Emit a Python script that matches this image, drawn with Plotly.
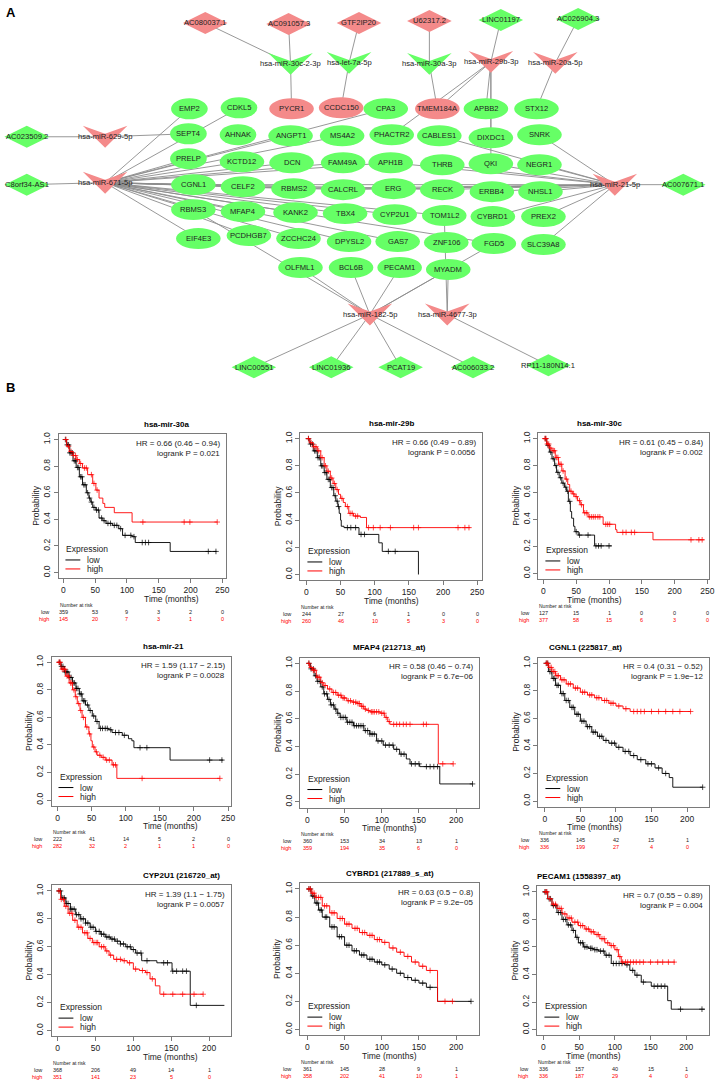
import plotly.graph_objects as go

W, H = 720, 1080
FONT = "Liberation Sans, Arial, sans-serif"
GREEN = "#66FF66"
PINK = "#F48A8A"
EDGE = "#8C8C8C"

# ======================= Panel A : network data =======================
# node kinds: ge green ellipse, pe pink ellipse, gd green diamond,
#             pd pink diamond, gv green V, pv pink V
node_names = [
    "AC080037.1", "AC091057.3", "GTF2IP20", "U62317.2", "LINC01197", "AC026904.3",
    "hsa-miR-30c-2-3p", "hsa-let-7a-5p", "hsa-miR-30a-3p", "hsa-miR-29b-3p", "hsa-miR-20a-5p",
    "EMP2", "CDKL5", "PYCR1", "CCDC150", "CPA3", "TMEM184A", "APBB2", "STX12",
    "SEPT4", "AHNAK", "ANGPT1", "MS4A2", "PHACTR2", "CABLES1", "DIXDC1", "SNRK",
    "PRELP", "KCTD12", "DCN", "FAM49A", "APH1B", "THRB", "QKI", "NEGR1",
    "CGNL1", "CELF2", "RBMS2", "CALCRL", "ERG", "RECK", "ERBB4", "NHSL1",
    "RBMS3", "MFAP4", "KANK2", "TBX4", "CYP2U1", "TOM1L2", "CYBRD1", "PREX2",
    "EIF4E3", "PCDHGB7", "ZCCHC24", "DPYSL2", "GAS7", "ZNF106", "FGD5", "SLC39A8",
    "OLFML1", "BCL6B", "PECAM1", "MYADM",
    "AC023509.2", "hsa-miR-629-5p", "C8orf34-AS1", "hsa-miR-671-5p",
    "hsa-miR-21-5p", "AC007671.1",
    "hsa-miR-182-5p", "hsa-miR-4677-3p",
    "LINC00551", "LINC01936", "PCAT19", "AC006033.2", "RP11-180N14.1",
]
node_kinds = [
    "pd", "pd", "pd", "pd", "gd", "gd",
    "gv", "gv", "gv", "pv", "pv",
    "ge", "ge", "pe", "pe", "ge", "pe", "ge", "ge",
    "ge", "ge", "ge", "ge", "ge", "ge", "ge", "ge",
    "ge", "ge", "ge", "ge", "ge", "ge", "ge", "ge",
    "ge", "ge", "ge", "ge", "ge", "ge", "ge", "ge",
    "ge", "ge", "ge", "ge", "ge", "ge", "ge", "ge",
    "ge", "ge", "ge", "ge", "ge", "ge", "ge", "ge",
    "ge", "ge", "ge", "ge",
    "gd", "pv", "gd", "pv",
    "pv", "gd",
    "pv", "pv",
    "gd", "gd", "gd", "gd", "gd",
]
edges = [
    ("hsa-miR-30c-2-3p", "AC080037.1"), ("hsa-miR-30c-2-3p", "AC091057.3"), ("hsa-miR-30c-2-3p", "PYCR1"),
    ("hsa-let-7a-5p", "GTF2IP20"), ("hsa-let-7a-5p", "CCDC150"),
    ("hsa-miR-30a-3p", "U62317.2"), ("hsa-miR-30a-3p", "TMEM184A"),
    ("hsa-miR-29b-3p", "LINC01197"), ("hsa-miR-29b-3p", "TMEM184A"), ("hsa-miR-29b-3p", "PHACTR2"),
    ("hsa-miR-29b-3p", "APBB2"), ("hsa-miR-29b-3p", "DIXDC1"), ("hsa-miR-29b-3p", "QKI"),
    ("hsa-miR-20a-5p", "AC026904.3"), ("hsa-miR-20a-5p", "STX12"),
    ("hsa-miR-629-5p", "AC023509.2"), ("hsa-miR-629-5p", "SEPT4"),
    ("hsa-miR-671-5p", "C8orf34-AS1"), ("hsa-miR-671-5p", "EMP2"), ("hsa-miR-671-5p", "CDKL5"),
    ("hsa-miR-671-5p", "ANGPT1"), ("hsa-miR-671-5p", "CPA3"), ("hsa-miR-671-5p", "MS4A2"),
    ("hsa-miR-671-5p", "PRELP"), ("hsa-miR-671-5p", "KCTD12"), ("hsa-miR-671-5p", "DCN"),
    ("hsa-miR-671-5p", "FAM49A"), ("hsa-miR-671-5p", "APH1B"), ("hsa-miR-671-5p", "CGNL1"),
    ("hsa-miR-671-5p", "CELF2"), ("hsa-miR-671-5p", "RBMS2"), ("hsa-miR-671-5p", "CALCRL"),
    ("hsa-miR-671-5p", "ERG"), ("hsa-miR-671-5p", "RECK"), ("hsa-miR-671-5p", "RBMS3"),
    ("hsa-miR-671-5p", "MFAP4"), ("hsa-miR-671-5p", "KANK2"), ("hsa-miR-671-5p", "TBX4"),
    ("hsa-miR-671-5p", "CYP2U1"), ("hsa-miR-671-5p", "EIF4E3"), ("hsa-miR-671-5p", "PCDHGB7"),
    ("hsa-miR-671-5p", "ZCCHC24"), ("hsa-miR-671-5p", "DPYSL2"), ("hsa-miR-671-5p", "FGD5"),
    ("hsa-miR-671-5p", "TOM1L2"), ("hsa-miR-671-5p", "GAS7"),
    ("hsa-miR-21-5p", "AC007671.1"), ("hsa-miR-21-5p", "SNRK"), ("hsa-miR-21-5p", "NEGR1"),
    ("hsa-miR-21-5p", "CABLES1"), ("hsa-miR-21-5p", "THRB"), ("hsa-miR-21-5p", "QKI"),
    ("hsa-miR-21-5p", "APH1B"), ("hsa-miR-21-5p", "ERG"), ("hsa-miR-21-5p", "RECK"),
    ("hsa-miR-21-5p", "ERBB4"), ("hsa-miR-21-5p", "NHSL1"), ("hsa-miR-21-5p", "CALCRL"),
    ("hsa-miR-21-5p", "RBMS2"), ("hsa-miR-21-5p", "CYBRD1"), ("hsa-miR-21-5p", "PREX2"),
    ("hsa-miR-21-5p", "SLC39A8"), ("hsa-miR-21-5p", "CGNL1"),
    ("hsa-miR-182-5p", "LINC00551"), ("hsa-miR-182-5p", "LINC01936"), ("hsa-miR-182-5p", "PCAT19"),
    ("hsa-miR-182-5p", "AC006033.2"), ("hsa-miR-182-5p", "OLFML1"), ("hsa-miR-182-5p", "BCL6B"),
    ("hsa-miR-182-5p", "PECAM1"), ("hsa-miR-182-5p", "MYADM"), ("hsa-miR-182-5p", "FGD5"),
    ("hsa-miR-182-5p", "RBMS3"),
    ("hsa-miR-4677-3p", "MYADM"), ("hsa-miR-4677-3p", "TOM1L2"), ("hsa-miR-4677-3p", "RP11-180N14.1"),
]

# ---- layout positions of the network nodes (pixel coordinates) ----
NODE_POS = {
    "AC080037.1": (207, 21), "AC091057.3": (291, 22), "GTF2IP20": (362, 21), "U62317.2": (433, 19),
    "LINC01197": (505, 18), "AC026904.3": (583, 17),
    "hsa-miR-30c-2-3p": (293, 62), "hsa-let-7a-5p": (352, 61), "hsa-miR-30a-3p": (433, 62),
    "hsa-miR-29b-3p": (495, 60), "hsa-miR-20a-5p": (560, 61),
    "EMP2": (191, 107), "CDKL5": (241, 106), "PYCR1": (294, 107), "CCDC150": (344, 106),
    "CPA3": (389, 107), "TMEM184A": (441, 107), "APBB2": (490, 107), "STX12": (541, 107),
    "SEPT4": (190, 132), "AHNAK": (240, 133), "ANGPT1": (293, 134), "MS4A2": (345, 134),
    "PHACTR2": (395, 133), "CABLES1": (443, 134), "DIXDC1": (495, 136), "SNRK": (544, 133),
    "PRELP": (190, 157), "KCTD12": (244, 160), "DCN": (294, 161), "FAM49A": (346, 161),
    "APH1B": (394, 161), "THRB": (446, 163), "QKI": (495, 162), "NEGR1": (544, 163),
    "CGNL1": (195, 183), "CELF2": (245, 185), "RBMS2": (296, 187), "CALCRL": (346, 188),
    "ERG": (397, 187), "RECK": (446, 188), "ERBB4": (496, 190), "NHSL1": (545, 190),
    "RBMS3": (195, 208), "MFAP4": (245, 210), "KANK2": (298, 211), "TBX4": (348, 212),
    "CYP2U1": (398, 213), "TOM1L2": (448, 214), "CYBRD1": (497, 215), "PREX2": (548, 215),
    "EIF4E3": (200, 237), "PCDHGB7": (251, 234), "ZCCHC24": (301, 237), "DPYSL2": (352, 240),
    "GAS7": (401, 240), "ZNF106": (450, 241), "FGD5": (498, 242), "SLC39A8": (548, 243),
    "OLFML1": (303, 266), "BCL6B": (354, 266), "PECAM1": (403, 266), "MYADM": (452, 268),
    "AC023509.2": (27, 135), "hsa-miR-629-5p": (106, 135),
    "C8orf34-AS1": (27, 183), "hsa-miR-671-5p": (106, 181),
    "hsa-miR-21-5p": (620, 183), "AC007671.1": (689, 183),
    "hsa-miR-182-5p": (373, 313), "hsa-miR-4677-3p": (451, 313),
    "LINC00551": (256, 366), "LINC01936": (334, 366), "PCAT19": (404, 366),
    "AC006033.2": (477, 366), "RP11-180N14.1": (553, 364),
}
NARROW = {"EMP2", "CDKL5", "SEPT4", "AHNAK", "PRELP"}

# ======================= Panel B : survival data =======================
km_titles = ["hsa-mir-30a", "hsa-mir-29b", "hsa-mir-30c", "hsa-mir-21", "MFAP4 (212713_at)",
             "CGNL1 (225817_at)", "CYP2U1 (216720_at)", "CYBRD1 (217889_s_at)", "PECAM1 (1558397_at)"]
km_hr = ["HR = 0.66 (0.46 − 0.94)", "HR = 0.66 (0.49 − 0.89)", "HR = 0.61 (0.45 − 0.84)",
         "HR = 1.59 (1.17 − 2.15)", "HR = 0.58 (0.46 − 0.74)", "HR = 0.4 (0.31 − 0.52)",
         "HR = 1.39 (1.1 − 1.75)", "HR = 0.63 (0.5 − 0.8)", "HR = 0.7 (0.55 − 0.89)"]
km_p = ["logrank P = 0.021", "logrank P = 0.0056", "logrank P = 0.002", "logrank P = 0.0028",
        "logrank P = 6.7e−06", "logrank P = 1.9e−12", "logrank P = 0.0057", "logrank P = 9.2e−05",
        "logrank P = 0.004"]
km_xticks = [[0, 50, 100, 150, 200, 250]] * 4 + [[0, 50, 100, 150, 200]] * 5

risk_low = [[359, 53, 9, 3, 2, 0], [244, 27, 6, 1, 0, 0], [127, 15, 1, 0, 0, 0], [222, 41, 14, 5, 2, 0],
            [360, 153, 34, 13, 1], [336, 145, 42, 15, 1], [368, 206, 49, 14, 1], [361, 145, 28, 9, 1],
            [336, 157, 40, 15, 1]]
risk_high = [[145, 20, 7, 3, 1, 0], [260, 46, 10, 5, 3, 0], [377, 58, 15, 6, 3, 0], [282, 32, 2, 1, 1, 0],
             [359, 194, 35, 6, 0], [336, 199, 27, 4, 0], [351, 141, 23, 5, 0], [358, 202, 41, 10, 1],
             [336, 187, 29, 4, 0]]

# --- hsa-mir-30a
p1_low_t = [0, 5, 10, 15, 20, 25, 30, 36, 40, 43, 46, 51, 56, 62, 67, 77, 87, 93, 108, 113, 168, 241]
p1_low_s = [1.0, 0.96, 0.90, 0.84, 0.79, 0.72, 0.66, 0.60, 0.56, 0.53, 0.49, 0.47, 0.41, 0.39, 0.37, 0.355, 0.33, 0.28, 0.27, 0.226, 0.159, 0.159]
p1_low_c = [3, 6, 8, 10, 12, 14, 17, 19, 22, 24, 27, 29, 32, 34, 38, 41, 44, 48, 52, 55, 60, 64, 70, 74, 80, 84, 90, 97, 106, 111, 124, 129, 134, 228, 240]
p1_high_t = [0, 5, 9, 15, 20, 25, 30, 38, 46, 51, 56, 62, 65, 80, 108, 242]
p1_high_s = [1.0, 0.95, 0.91, 0.88, 0.85, 0.82, 0.786, 0.736, 0.67, 0.62, 0.56, 0.52, 0.49, 0.45, 0.38, 0.38]
p1_high_c = [4, 8, 12, 16, 19, 22, 27, 33, 36, 44, 48, 53, 125, 190, 199, 242]
# --- hsa-mir-29b
p2_low_t = [0, 5, 10, 16, 21, 26, 30, 35, 40, 43, 46, 48, 50, 51, 55, 77, 106, 111, 164]
p2_low_s = [1.0, 0.96, 0.91, 0.86, 0.80, 0.75, 0.70, 0.64, 0.58, 0.54, 0.50, 0.45, 0.40, 0.355, 0.345, 0.295, 0.233, 0.17, 0.0]
p2_low_c = [3, 6, 9, 12, 14, 17, 19, 22, 24, 27, 29, 32, 34, 37, 39, 42, 45, 47, 60, 65, 72, 80, 85, 120, 130]
p2_high_t = [0, 5, 10, 16, 21, 26, 30, 35, 39, 43, 47, 50, 54, 57, 62, 69, 79, 88, 240]
p2_high_s = [1.0, 0.97, 0.94, 0.91, 0.86, 0.80, 0.76, 0.71, 0.67, 0.625, 0.59, 0.56, 0.53, 0.50, 0.45, 0.43, 0.42, 0.345, 0.345]
p2_high_c = [3, 7, 11, 14, 18, 23, 28, 32, 37, 41, 45, 52, 60, 64, 67, 72, 75, 91, 98, 108, 123, 157, 164, 222, 232, 238]
# --- hsa-mir-30c
p3_low_t = [0, 5, 9, 13, 17, 20, 24, 28, 32, 35, 38, 41, 43, 46, 48, 53, 78, 104]
p3_low_s = [1.0, 0.95, 0.90, 0.85, 0.80, 0.75, 0.71, 0.67, 0.64, 0.61, 0.535, 0.46, 0.41, 0.35, 0.31, 0.285, 0.205, 0.205]
p3_low_c = [3, 7, 11, 15, 19, 22, 26, 30, 34, 37, 40, 50, 55, 68, 80, 84, 88, 100]
p3_high_t = [0, 5, 9, 13, 18, 23, 28, 33, 37, 40, 44, 48, 52, 56, 61, 68, 91, 110, 112, 167, 245]
p3_high_s = [1.0, 0.96, 0.93, 0.91, 0.86, 0.81, 0.76, 0.70, 0.66, 0.61, 0.59, 0.57, 0.54, 0.51, 0.45, 0.42, 0.365, 0.325, 0.305, 0.25, 0.25]
p3_high_c = [2, 4, 6, 8, 11, 15, 17, 20, 22, 25, 27, 30, 35, 42, 46, 50, 55, 58, 63, 66, 70, 73, 76, 79, 83, 86, 95, 98, 101, 121, 126, 134, 139, 225, 237, 242]
# --- hsa-mir-21
p4_low_t = [0, 5, 10, 17, 22, 27, 32, 36, 41, 46, 51, 56, 61, 75, 80, 95, 104, 109, 112, 165, 243]
p4_low_s = [1.0, 0.97, 0.93, 0.89, 0.85, 0.81, 0.77, 0.72, 0.69, 0.65, 0.61, 0.57, 0.52, 0.51, 0.49, 0.47, 0.445, 0.43, 0.38, 0.29, 0.29]
p4_low_c = [3, 6, 8, 11, 13, 15, 18, 20, 23, 25, 28, 30, 33, 35, 38, 40, 44, 48, 53, 58, 63, 66, 70, 73, 78, 85, 90, 98, 121, 131, 223, 241]
p4_high_t = [0, 5, 12, 17, 22, 26, 29, 33, 36, 41, 46, 49, 51, 55, 58, 64, 70, 80, 87, 238]
p4_high_s = [1.0, 0.95, 0.90, 0.85, 0.80, 0.75, 0.70, 0.65, 0.60, 0.53, 0.48, 0.43, 0.385, 0.35, 0.325, 0.31, 0.29, 0.255, 0.157, 0.157]
p4_high_c = [2, 4, 7, 9, 11, 14, 16, 19, 21, 24, 27, 31, 34, 38, 43, 47, 53, 57, 62, 67, 72, 76, 82, 85, 124, 238]
# --- MFAP4
p5_low_t = [0, 4, 9, 13, 18, 22, 27, 31, 36, 40, 44, 53, 62, 76, 84, 93, 102, 116, 124, 133, 138, 151, 178, 222]
p5_low_s = [1.0, 0.96, 0.91, 0.87, 0.83, 0.78, 0.74, 0.70, 0.67, 0.64, 0.61, 0.575, 0.55, 0.515, 0.49, 0.44, 0.41, 0.38, 0.345, 0.31, 0.275, 0.255, 0.13, 0.13]
p5_low_c = [2, 5, 8, 11, 14, 17, 20, 23, 26, 29, 32, 35, 38, 41, 45, 48, 51, 54, 57, 60, 63, 66, 69, 72, 75, 78, 81, 84, 87, 90, 95, 100, 105, 110, 115, 120, 126, 130, 140, 145, 150, 160, 165, 170, 175, 222]
p5_high_t = [0, 3, 7, 12, 18, 22, 27, 33, 40, 46, 53, 60, 67, 72, 76, 80, 84, 98, 104, 108, 111, 176, 196]
p5_high_s = [1.0, 0.97, 0.95, 0.90, 0.86, 0.84, 0.815, 0.79, 0.77, 0.75, 0.73, 0.72, 0.71, 0.69, 0.67, 0.66, 0.65, 0.64, 0.61, 0.58, 0.56, 0.275, 0.275]
p5_high_c = [2, 5, 8, 10, 14, 16, 20, 24, 30, 35, 38, 42, 45, 48, 50, 55, 58, 62, 65, 68, 70, 73, 75, 78, 82, 86, 88, 90, 93, 96, 100, 103, 106, 110, 116, 120, 124, 129, 133, 138, 156, 160, 182, 196]
# --- CGNL1
p6_low_t = [0, 5, 10, 15, 22, 28, 35, 42, 50, 58, 66, 74, 82, 90, 100, 110, 120, 130, 142, 155, 165, 175, 180, 222]
p6_low_s = [1.0, 0.94, 0.89, 0.84, 0.78, 0.73, 0.68, 0.63, 0.58, 0.54, 0.50, 0.47, 0.44, 0.42, 0.39, 0.36, 0.33, 0.30, 0.27, 0.24, 0.20, 0.17, 0.10, 0.10]
p6_low_c = [2, 4, 7, 9, 12, 14, 17, 19, 24, 26, 30, 33, 38, 40, 45, 47, 52, 55, 60, 63, 68, 71, 77, 80, 86, 94, 98, 104, 113, 118, 125, 135, 145, 150, 160, 170, 222]
p6_high_t = [0, 5, 10, 15, 22, 30, 40, 50, 60, 70, 80, 90, 100, 110, 120, 205]
p6_high_s = [1.0, 0.97, 0.94, 0.91, 0.88, 0.85, 0.82, 0.79, 0.77, 0.75, 0.73, 0.71, 0.69, 0.67, 0.65, 0.65]
p6_high_c = [2, 4, 7, 9, 12, 14, 17, 19, 24, 27, 33, 36, 43, 46, 53, 56, 63, 66, 73, 76, 84, 87, 93, 96, 104, 114, 125, 130, 135, 140, 150, 160, 170, 180, 190, 205]
# --- CYP2U1
p7_low_t = [0, 5, 11, 17, 24, 30, 37, 43, 50, 57, 63, 70, 76, 83, 90, 97, 103, 111, 131, 151, 175, 220]
p7_low_s = [1.0, 0.95, 0.91, 0.87, 0.83, 0.80, 0.77, 0.74, 0.71, 0.69, 0.67, 0.655, 0.64, 0.62, 0.60, 0.58, 0.555, 0.50, 0.485, 0.425, 0.18, 0.18]
p7_low_c = [2, 4, 7, 9, 12, 14, 17, 19, 22, 25, 28, 31, 34, 37, 40, 44, 47, 51, 55, 58, 61, 65, 68, 72, 75, 79, 83, 87, 92, 96, 100, 105, 110, 118, 140, 145, 152, 157, 165, 170, 183]
p7_high_t = [0, 4, 9, 14, 20, 26, 33, 40, 46, 55, 63, 68, 74, 85, 92, 100, 108, 116, 122, 129, 135, 192]
p7_high_s = [1.0, 0.94, 0.89, 0.84, 0.79, 0.74, 0.70, 0.66, 0.63, 0.60, 0.57, 0.54, 0.51, 0.50, 0.485, 0.44, 0.43, 0.415, 0.37, 0.32, 0.26, 0.26]
p7_high_c = [2, 5, 8, 11, 16, 19, 23, 28, 31, 36, 39, 43, 48, 51, 53, 58, 61, 65, 70, 78, 83, 88, 95, 103, 112, 118, 125, 140, 152, 165, 180, 192]
# --- CYBRD1
p8_low_t = [0, 5, 10, 15, 20, 30, 40, 50, 60, 70, 80, 90, 100, 110, 120, 130, 140, 150, 160, 175, 220]
p8_low_s = [1.0, 0.95, 0.90, 0.85, 0.80, 0.73, 0.66, 0.60, 0.56, 0.53, 0.50, 0.48, 0.46, 0.43, 0.40, 0.37, 0.35, 0.33, 0.30, 0.20, 0.20]
p8_low_c = [2, 4, 7, 9, 12, 14, 17, 19, 24, 26, 33, 36, 43, 46, 53, 56, 63, 66, 73, 76, 84, 87, 94, 97, 104, 114, 125, 135, 145, 155, 165, 220]
p8_high_t = [0, 5, 10, 20, 30, 40, 50, 60, 70, 80, 90, 100, 110, 120, 130, 140, 150, 160, 175, 195]
p8_high_s = [1.0, 0.97, 0.94, 0.88, 0.83, 0.79, 0.75, 0.72, 0.69, 0.67, 0.64, 0.62, 0.58, 0.55, 0.52, 0.48, 0.45, 0.42, 0.20, 0.20]
p8_high_c = [2, 4, 7, 9, 12, 15, 18, 23, 26, 33, 36, 44, 47, 53, 56, 64, 67, 74, 77, 84, 87, 94, 97, 104, 115, 125, 135, 145, 155, 165, 185, 195]
# --- PECAM1
p9_low_t = [0, 6, 12, 19, 26, 33, 40, 45, 49, 56, 63, 70, 77, 86, 95, 114, 121, 128, 137, 151, 174, 179, 226]
p9_low_s = [1.0, 0.95, 0.90, 0.85, 0.80, 0.76, 0.72, 0.67, 0.63, 0.60, 0.59, 0.58, 0.57, 0.54, 0.48, 0.47, 0.43, 0.395, 0.345, 0.315, 0.21, 0.148, 0.148]
p9_low_c = [2, 4, 8, 10, 14, 17, 21, 24, 28, 31, 35, 38, 42, 47, 52, 55, 58, 61, 66, 68, 72, 75, 80, 84, 88, 92, 98, 102, 106, 110, 117, 125, 131, 140, 155, 160, 165, 170, 192, 222]
p9_high_t = [0, 6, 12, 19, 26, 33, 40, 49, 58, 65, 72, 79, 86, 93, 100, 105, 109, 184]
p9_high_s = [1.0, 0.95, 0.91, 0.88, 0.84, 0.81, 0.78, 0.755, 0.73, 0.71, 0.69, 0.66, 0.63, 0.61, 0.58, 0.53, 0.49, 0.49]
p9_high_c = [3, 5, 9, 14, 17, 22, 25, 30, 36, 39, 44, 48, 52, 55, 60, 63, 67, 70, 75, 77, 82, 85, 90, 95, 98, 103, 107, 111, 115, 118, 122, 126, 130, 135, 140, 150, 160, 167, 175, 183]

low_curves = [(p1_low_t, p1_low_s, p1_low_c), (p2_low_t, p2_low_s, p2_low_c), (p3_low_t, p3_low_s, p3_low_c),
              (p4_low_t, p4_low_s, p4_low_c), (p5_low_t, p5_low_s, p5_low_c), (p6_low_t, p6_low_s, p6_low_c),
              (p7_low_t, p7_low_s, p7_low_c), (p8_low_t, p8_low_s, p8_low_c), (p9_low_t, p9_low_s, p9_low_c)]
high_curves = [(p1_high_t, p1_high_s, p1_high_c), (p2_high_t, p2_high_s, p2_high_c), (p3_high_t, p3_high_s, p3_high_c),
               (p4_high_t, p4_high_s, p4_high_c), (p5_high_t, p5_high_s, p5_high_c), (p6_high_t, p6_high_s, p6_high_c),
               (p7_high_t, p7_high_s, p7_high_c), (p8_high_t, p8_high_s, p8_high_c), (p9_high_t, p9_high_s, p9_high_c)]

# ---- layout: panel boxes in pixels (x0, x1, y0, y1) and x ranges ----
BOXES = [(59, 228, 433, 577), (303, 486, 432, 579), (543, 715, 432, 578),
         (52, 233, 656, 805), (303, 483, 657, 807), (543, 715, 657, 806),
         (52, 233, 885, 1036), (303, 483, 883, 1035), (542, 715, 886, 1035)]
XRANGES = [(-7.8, 256), (-8.7, 257), (-7.6, 252.5),
           (-8.7, 254.4), (-9.3, 230.7), (-9, 231),
           (-7.8, 228.8), (-9.3, 230.7), (-8.3, 231.9)]


def step_value(ts, ss, c):
    v = ss[0]
    for t, s in zip(ts, ss):
        if t <= c:
            v = s
    return v


fig = go.Figure()
shapes = []
annotations = []

# ======================= build panel A =======================
ex, ey = [], []
for a, b in edges:
    xa, ya = NODE_POS[a]
    xb, yb = NODE_POS[b]
    ex += [xa, xb, None]
    ey += [ya, yb, None]
fig.add_trace(go.Scatter(x=ex, y=ey, mode="lines", line=dict(color=EDGE, width=0.9),
                         hoverinfo="skip", showlegend=False, xaxis="x", yaxis="y"))

for name, kind in zip(node_names, node_kinds):
    x, y = NODE_POS[name]
    col = GREEN if kind[0] == "g" else PINK
    if kind[1] == "e":
        w = 37 if name in NARROW else 45
        h = 21
        shapes.append(dict(type="circle", xref="x", yref="y", x0=x - w / 2, x1=x + w / 2,
                           y0=y - h / 2, y1=y + h / 2, fillcolor=col, line=dict(width=0), layer="above"))
    elif kind[1] == "d":
        w, h = 45, 22
        path = f"M {x - w/2},{y} L {x},{y - h/2} L {x + w/2},{y} L {x},{y + h/2} Z"
        shapes.append(dict(type="path", xref="x", yref="y", path=path, fillcolor=col,
                           line=dict(width=0), layer="above"))
    else:
        w, h, notch = 45, 22, 8
        path = (f"M {x - w/2},{y - h/2} L {x},{y - h/2 + notch} L {x + w/2},{y - h/2} "
                f"L {x},{y + h/2} Z")
        shapes.append(dict(type="path", xref="x", yref="y", path=path, fillcolor=col,
                           line=dict(width=0), layer="above"))
    annotations.append(dict(x=x, y=y, xref="x", yref="y", text=name, showarrow=False,
                            font=dict(family=FONT, size=7.6, color="#222"),
                            xanchor="center", yanchor="middle"))

A_BOTTOM = 388
layout_axes = dict(
    xaxis=dict(domain=[0, 1], range=[0, W], visible=False, fixedrange=True),
    yaxis=dict(domain=[1 - A_BOTTOM / H, 1], range=[A_BOTTOM, 0], visible=False, fixedrange=True),
)

annotations.append(dict(x=4 / W, y=1 - 1 / H, xref="paper", yref="paper", text="<b>A</b>",
                        showarrow=False, xanchor="left", yanchor="top",
                        font=dict(family=FONT, size=13, color="black")))
annotations.append(dict(x=4 / W, y=1 - 377 / H, xref="paper", yref="paper", text="<b>B</b>",
                        showarrow=False, xanchor="left", yanchor="top",
                        font=dict(family=FONT, size=13, color="black")))


def px(xp):
    return xp / W


def py(yp):
    return 1 - yp / H


# ======================= build panel B =======================
for i in range(9):
    k = i + 2
    xa, ya = f"x{k}", f"y{k}"
    bx0, bx1, by0, by1 = BOXES[i]
    ticks = km_xticks[i]
    for (t, s, c), color in ((low_curves[i], "black"), (high_curves[i], "#FF0000")):
        fig.add_trace(go.Scatter(x=t, y=s, mode="lines", line=dict(shape="hv", color=color, width=0.9),
                                 hoverinfo="skip", showlegend=False, xaxis=xa, yaxis=ya))
        cy = [step_value(t, s, cc) for cc in c]
        fig.add_trace(go.Scatter(x=c, y=cy, mode="markers",
                                 marker=dict(symbol="cross-thin", size=4, line=dict(width=0.7, color=color)),
                                 hoverinfo="skip", showlegend=False, xaxis=xa, yaxis=ya))
    axstyle = dict(showline=True, mirror=True, linecolor="#7a7a7a", linewidth=1, ticks="outside",
                   ticklen=4, tickcolor="#7a7a7a", showgrid=False, zeroline=False, fixedrange=True,
                   tickfont=dict(family=FONT, size=8.5, color="#222"))
    layout_axes[f"xaxis{k}"] = dict(domain=[px(bx0), px(bx1)], range=list(XRANGES[i]), anchor=ya,
                                    tickvals=ticks, **axstyle)
    layout_axes[f"yaxis{k}"] = dict(domain=[py(by1), py(by0)], range=[-0.04, 1.04], anchor=xa,
                                    tickvals=[0, 0.2, 0.4, 0.6, 0.8, 1.0],
                                    ticktext=["0.0", "0.2", "0.4", "0.6", "0.8", "1.0"],
                                    tickangle=-90, **axstyle)
    cx = (bx0 + bx1) / 2
    # title
    annotations.append(dict(x=px(cx), y=py(by0 - 10), xref="paper", yref="paper",
                            text=f"<b>{km_titles[i]}</b>", showarrow=False,
                            font=dict(family=FONT, size=8, color="black"), yanchor="middle"))
    # HR text
    annotations.append(dict(x=px(bx1 - 4), y=py(by0 + 9), xref="paper", yref="paper", text=km_hr[i],
                            showarrow=False, xanchor="right", yanchor="middle",
                            font=dict(family=FONT, size=8, color="#222")))
    annotations.append(dict(x=px(bx1 - 4), y=py(by0 + 19), xref="paper", yref="paper", text=km_p[i],
                            showarrow=False, xanchor="right", yanchor="middle",
                            font=dict(family=FONT, size=8, color="#222")))
    # axis titles
    annotations.append(dict(x=px(cx), y=py(by1 + 21), xref="paper", yref="paper", text="Time (months)",
                            showarrow=False, yanchor="middle",
                            font=dict(family=FONT, size=8.5, color="#222")))
    annotations.append(dict(x=px(bx0 - 23), y=py((by0 + by1) / 2), xref="paper", yref="paper",
                            text="Probability", showarrow=False, textangle=-90, xanchor="center",
                            yanchor="middle", font=dict(family=FONT, size=8.5, color="#222")))
    # legend
    annotations.append(dict(x=px(bx0 + 6), y=py(by1 - 29), xref="paper", yref="paper", text="Expression",
                            showarrow=False, xanchor="left", yanchor="middle",
                            font=dict(family=FONT, size=8.5, color="#222")))
    for lbl, dy, color in (("low", 18, "black"), ("high", 9, "#FF0000")):
        shapes.append(dict(type="line", xref="paper", yref="paper", x0=px(bx0 + 7), x1=px(bx0 + 22),
                           y0=py(by1 - dy), y1=py(by1 - dy), line=dict(color=color, width=1)))
        annotations.append(dict(x=px(bx0 + 27), y=py(by1 - dy), xref="paper", yref="paper", text=lbl,
                                showarrow=False, xanchor="left", yanchor="middle",
                                font=dict(family=FONT, size=8.5, color="#222")))
    # number at risk table
    annotations.append(dict(x=px(bx0 - 1), y=py(by1 + 27), xref="paper", yref="paper",
                            text="Number at risk", showarrow=False, xanchor="left", yanchor="middle",
                            font=dict(family=FONT, size=5, color="#222")))
    for lbl, vals, dy, color in (("low", risk_low[i], 34, "#222"), ("high", risk_high[i], 41, "#FF0000")):
        annotations.append(dict(x=px(bx0 - 8), y=py(by1 + dy), xref="paper", yref="paper", text=lbl,
                                showarrow=False, xanchor="right", yanchor="middle",
                                font=dict(family=FONT, size=5.5, color=color)))
        for tv, v in zip(ticks, vals):
            annotations.append(dict(x=tv, y=py(by1 + dy), xref=xa, yref="paper", text=str(v),
                                    showarrow=False, xanchor="center", yanchor="middle",
                                    font=dict(family=FONT, size=5.5, color=color)))

fig.update_layout(
    width=W, height=H, margin=dict(l=0, r=0, t=0, b=0),
    paper_bgcolor="white", plot_bgcolor="white",
    shapes=shapes, annotations=annotations, showlegend=False,
    **layout_axes,
)

fig.write_html("out.html",
               config={"displayModeBar": False, "staticPlot": True},
               post_script="document.body.style.margin='0';document.body.style.padding='0';"
                           "document.documentElement.style.overflow='hidden';")
